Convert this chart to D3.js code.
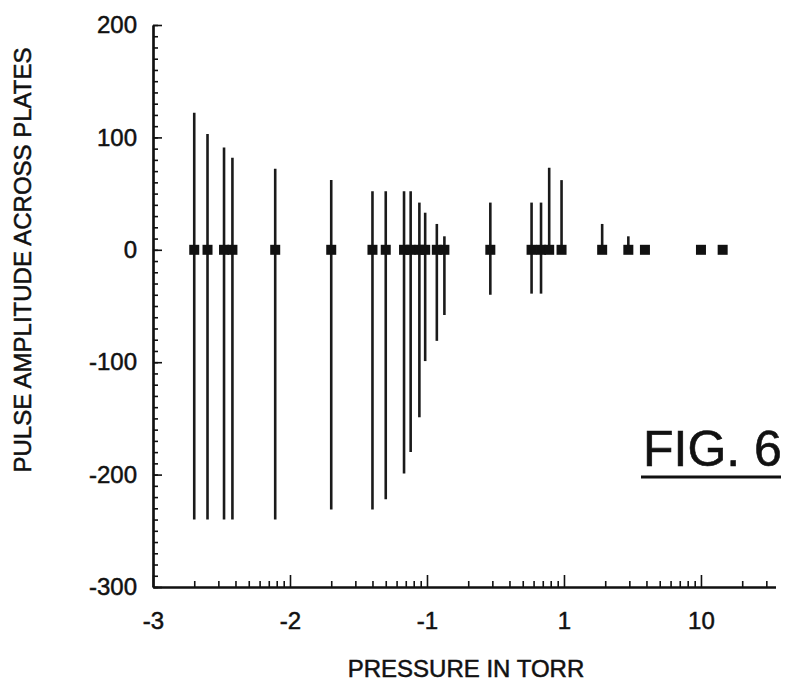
<!doctype html>
<html lang="en">
    <head>
        <meta charset="utf-8">
        <style>
        body, html{
            margin:0;
            padding:0;
            background:white;
            overflow:hidden;
        }
        svg text{
            font-family: "Liberation Sans", Arial, sans-serif;
            fill:#111;
        }
        </style>
    </head>
    <body>
        <div id="chart"></div>
        <script src="https://cdnjs.cloudflare.com/ajax/libs/d3/7.8.5/d3.min.js"></script>
        <script>

const pressure = [0.002, 0.0025, 0.0033, 0.0038, 0.0078, 0.02, 0.04, 0.05, 0.068, 0.076,
                  0.088, 0.097, 0.118, 0.134, 0.29, 0.58, 0.68, 0.78, 0.96, 1.9,
                  2.95, 3.9, 10, 14.4];
// top and bottom of each pulse amplitude bar
const ampHigh = [122, 103, 91, 82, 72, 62, 52, 52, 52, 52,
                 42, 33, 23, 12, 42, 42, 42, 73, 62, 23,
                 12, 0, 0, 0];
const ampLow = [-240, -240, -240, -240, -240, -231, -231, -222, -199, -180,
                -149, -99, -81, -58, -40, -39, -39, 0, 0, 0,
                0, 0, 0, 0];

const xTickValues = [0.001, 0.01, 0.1, 1, 10];
const xTickLabels = ["-3", "-2", "-1", "1", "10"];
const yTickValues = [-300, -200, -100, 0, 100, 200];

const width = 790;
const height = 686;

const svg = d3.select("#chart").append("svg")
    .attr("width", width)
    .attr("height", height);

const x = d3.scaleLog().domain([0.001, 35]).range([153, 775.5]);
const y = d3.scaleLinear().domain([-300, 200]).range([587, 25]);

// minor ticks for the log axis: 2..9 in each decade
const xMinor = [];
xTickValues.forEach((d) => {
    for (let k = 2; k <= 9; k++) {
        if (d * k <= 35) xMinor.push(d * k);
    }
});

const styleAxis = (g) => {
    g.selectAll("path.domain").attr("stroke", "#111").attr("stroke-width", 2.2);
    g.selectAll(".tick line").attr("stroke", "#111").attr("stroke-width", 1.6);
    g.selectAll("text").attr("font-size", 24).attr("fill", "#111")
        .attr("stroke", "#111").attr("stroke-width", 0.5);
};

// x axis, ticks pointing up into the plot
svg.append("g")
    .attr("transform", `translate(0,${y(-300)})`)
    .call(d3.axisBottom(x).tickValues(xMinor).tickSizeInner(-6).tickSizeOuter(0).tickFormat(""))
    .call(styleAxis);

svg.append("g")
    .attr("transform", `translate(0,${y(-300)})`)
    .call(d3.axisBottom(x).tickValues(xTickValues).tickSizeInner(-12).tickSizeOuter(0)
        .tickPadding(25).tickFormat((d, i) => xTickLabels[i]))
    .call(styleAxis);

// y axis, ticks pointing right
svg.append("g")
    .attr("transform", `translate(${x(0.001)},0)`)
    .call(d3.axisLeft(y).tickValues(d3.range(-300, 201, 10)).tickSizeInner(-5).tickSizeOuter(0).tickFormat(""))
    .call(styleAxis);

svg.append("g")
    .attr("transform", `translate(${x(0.001)},0)`)
    .call(d3.axisLeft(y).tickValues(yTickValues).tickSizeInner(-9).tickSizeOuter(0)
        .tickPadding(16).tickFormat((d) => String(d)))
    .call(styleAxis);

const points = pressure.map((p, i) => ({p: p, hi: ampHigh[i], lo: ampLow[i]}));

svg.selectAll("line.bar").data(points).enter().append("line")
    .attr("class", "bar")
    .attr("x1", (d) => x(d.p))
    .attr("x2", (d) => x(d.p))
    .attr("y1", (d) => y(d.hi))
    .attr("y2", (d) => y(d.lo))
    .attr("stroke", "#1a1a1a")
    .attr("stroke-width", 2.6);

svg.selectAll("rect.pt").data(points).enter().append("rect")
    .attr("class", "pt")
    .attr("x", (d) => x(d.p) - 5)
    .attr("y", y(0) - 5)
    .attr("width", 10)
    .attr("height", 10)
    .attr("fill", "#111");

// axis titles
svg.append("text")
    .attr("transform", "translate(31,260) rotate(-90)")
    .attr("text-anchor", "middle")
    .attr("font-size", 24)
    .attr("stroke", "#111")
    .attr("stroke-width", 0.5)
    .text("PULSE AMPLITUDE ACROSS PLATES");

svg.append("text")
    .attr("x", 466)
    .attr("y", 677)
    .attr("text-anchor", "middle")
    .attr("font-size", 24)
    .attr("stroke", "#111")
    .attr("stroke-width", 0.5)
    .text("PRESSURE IN TORR");

// figure label
svg.append("text")
    .attr("x", 643)
    .attr("y", 466)
    .attr("font-size", 50)
    .attr("stroke", "#111")
    .attr("stroke-width", 0.6)
    .text("FIG. 6");

svg.append("line")
    .attr("x1", 641).attr("x2", 781)
    .attr("y1", 477).attr("y2", 477)
    .attr("stroke", "#111")
    .attr("stroke-width", 3);

        </script>
    </body>
</html>
